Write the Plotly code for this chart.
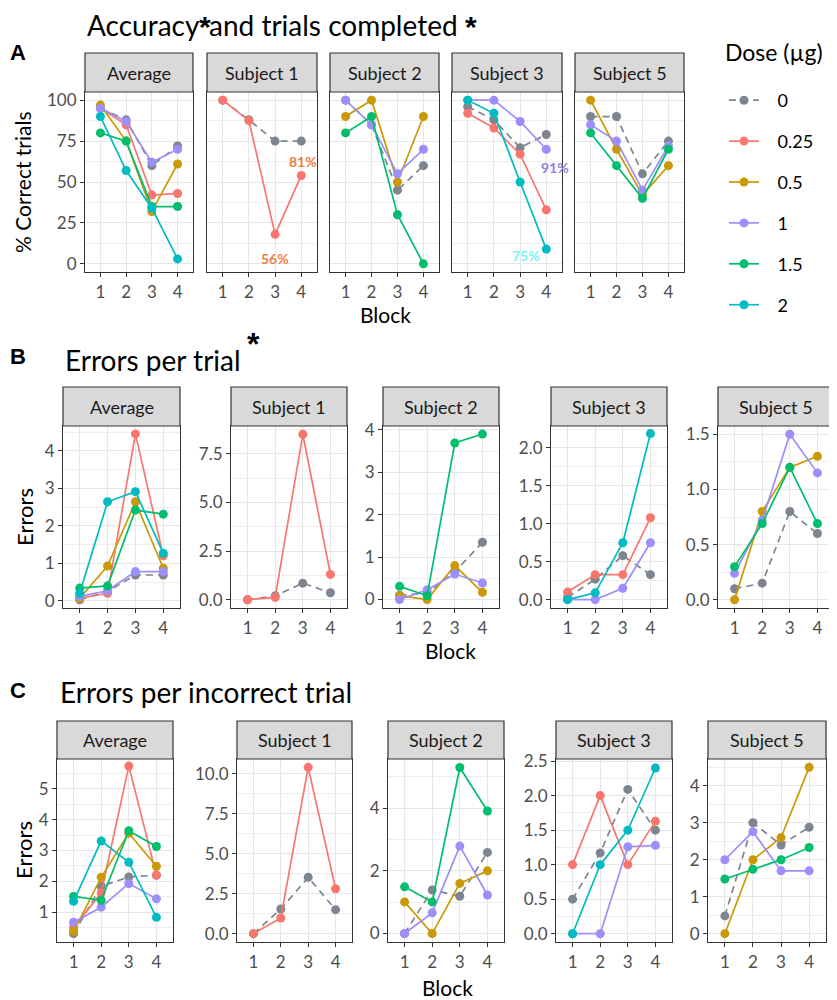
import plotly.graph_objects as go

# ---------------- data ----------------
DOSES = ["0", "0.25", "0.5", "1", "1.5", "2"]
BLOCKS = [1, 2, 3, 4]
FACETS = ["Average", "Subject 1", "Subject 2", "Subject 3", "Subject 5"]

# A: % correct trials
acc_average = {"0": [95, 88, 60, 72], "0.25": [95, 85, 42, 43], "0.5": [97, 75, 32, 61],
               "1": [95, 87, 62, 70], "1.5": [80, 75, 35, 35], "2": [90, 57, 34, 3]}
acc_subject1 = {"0": [100, 88, 75, 75], "0.25": [100, 87.5, 18, 54]}
acc_subject2 = {"0": [100, 85, 45, 60], "0.5": [90, 100, 50, 90], "1": [100, 85, 55, 70],
                "1.5": [80, 90, 30, 0]}
acc_subject3 = {"0": [96, 88, 71, 79], "0.25": [92, 83, 67, 33], "1": [100, 100, 87, 70],
                "2": [100, 92, 50, 9]}
acc_subject5 = {"0": [90, 90, 55, 75], "0.5": [100, 70, 42, 60], "1": [85, 75, 45, 72],
                "1.5": [80, 60, 40, 70]}

# B: errors per trial
ept_average = {"0": [0.03, 0.25, 0.69, 0.69], "0.25": [0.07, 0.2, 4.45, 1.2],
               "0.5": [0.07, 0.93, 2.64, 0.87], "1": [0.12, 0.27, 0.78, 0.78],
               "1.5": [0.34, 0.4, 2.42, 2.31], "2": [0.2, 2.64, 2.91, 1.27]}
ept_subject1 = {"0": [0, 0.2, 0.85, 0.36], "0.25": [0, 0.12, 8.5, 1.3]}
ept_subject2 = {"0": [0.1, 0.15, 0.65, 1.35], "0.5": [0.09, 0, 0.8, 0.17],
                "1": [0, 0.23, 0.6, 0.39], "1.5": [0.31, 0.09, 3.69, 3.9]}
ept_subject3 = {"0": [0.03, 0.27, 0.58, 0.33], "0.25": [0.1, 0.33, 0.33, 1.08],
                "1": [0, 0, 0.15, 0.75], "2": [0, 0.09, 0.75, 2.19]}
ept_subject5 = {"0": [0.1, 0.15, 0.8, 0.6], "0.5": [0, 0.8, 1.2, 1.3],
                "1": [0.24, 0.72, 1.5, 1.15], "1.5": [0.3, 0.69, 1.2, 0.69]}

# C: errors per incorrect trial
epi_average = {"0": [0.3, 1.84, 2.14, 2.2], "0.25": [0.5, 1.62, 5.74, 2.2],
               "0.5": [0.37, 2.13, 3.56, 2.49], "1": [0.67, 1.16, 1.93, 1.43],
               "1.5": [1.51, 1.38, 3.64, 3.13], "2": [1.35, 3.31, 2.62, 0.83]}
epi_subject1 = {"0": [0, 1.54, 3.52, 1.5], "0.25": [0, 0.98, 10.4, 2.81]}
epi_subject2 = {"0": [0, 1.39, 1.19, 2.59], "0.5": [1.01, 0, 1.6, 2.0],
                "1": [0, 0.66, 2.79, 1.23], "1.5": [1.49, 1.01, 5.3, 3.91]}
epi_subject3 = {"0": [0.5, 1.17, 2.09, 1.5], "0.25": [1.0, 2.0, 1.0, 1.63],
                "1": [0, 0, 1.26, 1.28], "2": [0, 1.0, 1.5, 2.4]}
epi_subject5 = {"0": [0.48, 3.0, 2.4, 2.88], "0.5": [0, 2.0, 2.6, 4.5],
                "1": [2.0, 2.76, 1.7, 1.7], "1.5": [1.48, 1.74, 2.0, 2.33]}

# percentage labels (panel A)
pct_labels = [("Subject 1", "81%"), ("Subject 1", "56%"), ("Subject 3", "91%"), ("Subject 3", "75%")]

# ---------------- style ----------------
W, H = 837, 1000
OFF = 8  # page body margin
FONT = "Lato"
COLORS = {"0": "#7E8591", "0.25": "#F8766D", "0.5": "#C99A06", "1": "#9C8FFA",
          "1.5": "#00BE6C", "2": "#00BCC0"}
PCT_STYLE = {"81%": ("#EE7D45", 4.06, 62.6), "56%": ("#EE7D45", 3.0, 3.2),
             "91%": ("#8B80E8", 4.33, 59.0), "75%": ("#7FF3F3", 3.22, 5.0)}
GRID = "#E6E6E6"
MINOR = "#EEEEEE"


def px(x):
    return (x - OFF) / W


def py(y):
    return 1 - (y - OFF) / H


ROWS = [
    dict(data=[acc_average, acc_subject1, acc_subject2, acc_subject3, acc_subject5],
         strip=(53, 92), bottom=272,
         xs=[(85, 193), (207, 317), (330, 439), (452, 562), (575, 684)],
         yaxes=[dict(range=[-5, 105], dtick=25, minor=12.5, fmt="d", show=True)]
         + [dict(range=[-5, 105], dtick=25, minor=12.5, fmt="d", show=False)] * 4,
         block=(385, 314)),
    dict(data=[ept_average, ept_subject1, ept_subject2, ept_subject3, ept_subject5],
         strip=(387, 426), bottom=608,
         xs=[(63, 180), (231, 347), (383, 499), (551, 667), (718, 834)],
         yaxes=[dict(range=[-0.19, 4.66], dtick=1, minor=0.5, fmt="d", show=True),
                dict(range=[-0.425, 8.925], dtick=2.5, minor=1.25, fmt=".1f", show=True),
                dict(range=[-0.2, 4.09], dtick=1, minor=0.5, fmt="d", show=True),
                dict(range=[-0.11, 2.29], dtick=0.5, minor=0.25, fmt=".1f", show=True),
                dict(range=[-0.075, 1.575], dtick=0.5, minor=0.25, fmt=".1f", show=True)],
         block=(450, 650)),
    dict(data=[epi_average, epi_subject1, epi_subject2, epi_subject3, epi_subject5],
         strip=(721, 759), bottom=942,
         xs=[(57, 173), (237, 352), (388, 504), (556, 672), (708, 826)],
         yaxes=[dict(range=[0.03, 5.97], dtick=1, minor=0.5, fmt="d", show=True),
                dict(range=[-0.52, 10.92], dtick=2.5, minor=1.25, fmt=".1f", show=True),
                dict(range=[-0.27, 5.57], dtick=2, minor=1, fmt="d", show=True),
                dict(range=[-0.12, 2.53], dtick=0.5, minor=0.25, fmt=".1f", show=True),
                dict(range=[-0.225, 4.725], dtick=1, minor=0.5, fmt="d", show=True)],
         block=(447, 987)),
]

fig = go.Figure()
layout = dict(width=W, height=H, autosize=False, margin=dict(l=0, r=0, t=0, b=0, pad=0),
              paper_bgcolor="white", plot_bgcolor="white",
              font=dict(family=FONT, color="#1A1A1A"))
shapes = []
annotations = []
legend_shown = set()

k = 0
for r, row in enumerate(ROWS):
    for f, facet in enumerate(FACETS):
        k += 1
        xn = "x" if k == 1 else f"x{k}"
        yn = "y" if k == 1 else f"y{k}"
        x0, x1 = row["xs"][f]
        ycfg = row["yaxes"][f]
        layout["xaxis" if k == 1 else f"xaxis{k}"] = dict(
            domain=[px(x0), px(x1)], anchor=yn, range=[0.4, 4.6], automargin=False,
            tickvals=BLOCKS, ticktext=[str(b) for b in BLOCKS],
            showgrid=True, gridcolor=GRID, gridwidth=1.4, zeroline=False,
            showline=True, mirror=True, linecolor="#333333", linewidth=1.2,
            ticks="outside", ticklen=4, tickcolor="#333333", tickwidth=1.1,
            tickfont=dict(family=FONT, size=17, color="#4D4D4D"), fixedrange=True)
        layout["yaxis" if k == 1 else f"yaxis{k}"] = dict(
            domain=[py(row["bottom"]), py(row["strip"][1])], anchor=xn, automargin=False,
            range=ycfg["range"], tick0=0, dtick=ycfg["dtick"], tickformat=ycfg["fmt"],
            showgrid=True, gridcolor=GRID, gridwidth=1.4, zeroline=False,
            minor=dict(tick0=0, dtick=ycfg["minor"], showgrid=True, gridcolor=MINOR,
                       gridwidth=0.9, ticks=""),
            showline=True, mirror=True, linecolor="#333333", linewidth=1.2,
            ticks="outside" if ycfg["show"] else "", ticklen=4, tickcolor="#333333",
            tickwidth=1.1, showticklabels=ycfg["show"],
            tickfont=dict(family=FONT, size=17, color="#4D4D4D"), fixedrange=True)
        # strip
        s0, s1 = row["strip"]
        shapes.append(dict(type="rect", xref="paper", yref="paper",
                           x0=px(x0), x1=px(x1), y0=py(s1), y1=py(s0),
                           fillcolor="#D9D9D9", line=dict(color="#333333", width=1.2)))
        annotations.append(dict(text=facet, xref="paper", yref="paper",
                                x=px((x0 + x1) / 2), y=py((s0 + s1) / 2),
                                showarrow=False, xanchor="center", yanchor="middle",
                                font=dict(family=FONT, size=18, color="#1A1A1A")))
        # traces
        series = row["data"][f]
        for dose in DOSES:
            if dose not in series:
                continue
            show = dose not in legend_shown
            legend_shown.add(dose)
            fig.add_trace(go.Scatter(
                x=BLOCKS, y=series[dose], xaxis=xn, yaxis=yn, mode="lines+markers",
                name="\u2002\u00a0" + dose, legendgroup=dose, showlegend=show,
                line=dict(color=COLORS[dose], width=1.7,
                          dash="7px,5px" if dose == "0" else "solid"),
                marker=dict(color=COLORS[dose], size=9)))
        # percentage labels
        if r == 0:
            for fac, lab in pct_labels:
                if fac == facet:
                    col, lx, ly = PCT_STYLE[lab]
                    annotations.append(dict(text=f"<b>{lab}</b>", xref=xn, yref=yn,
                                            x=lx, y=ly, showarrow=False,
                                            font=dict(family=FONT, size=14, color=col)))


def add_text(text, x, y, size, xanchor="left", yanchor="middle", family=FONT, angle=0,
             color="#000000"):
    annotations.append(dict(text=text, xref="paper", yref="paper", x=px(x), y=py(y),
                            showarrow=False, xanchor=xanchor, yanchor=yanchor,
                            textangle=angle,
                            font=dict(family=family, size=size, color=color)))


for row in ROWS:
    bx, by = row["block"]
    add_text("Block", bx, by, 21, xanchor="center")

add_text("Accuracy", 85, 25, 28)
add_text("and trials completed", 207, 25, 28)
add_text("Errors per trial", 63, 360, 28)
add_text("Errors per incorrect trial", 58, 692, 28)
for ax in (205, 471):
    add_text("<b>*</b>", ax, OFF, 30, xanchor="center", yanchor="top", family="Liberation Sans")
add_text("<b>*</b>", 253, 344, 32, xanchor="center", family="Liberation Sans")
for lt, ly in [("A", 52), ("B", 356), ("C", 690)]:
    add_text(f"<b>{lt}</b>", OFF, ly, 22, xanchor="left", family="Liberation Sans")
add_text("% Correct trials", 23, 182, 21, xanchor="center", angle=-90)
add_text("Errors", 24, 517, 22, xanchor="center", angle=-90)
add_text("Errors", 23, 850, 22, xanchor="center", angle=-90)
add_text("Dose (µg)", 723, 52, 23, xanchor="left")

layout["shapes"] = shapes
layout["annotations"] = annotations
layout["legend"] = dict(x=px(724), y=py(82), xanchor="left", yanchor="top",
                        font=dict(family=FONT, size=18, color="#000000"),
                        tracegroupgap=14.5, bgcolor="rgba(0,0,0,0)")
fig.update_layout(**layout)
fig.write_html("out.html")
